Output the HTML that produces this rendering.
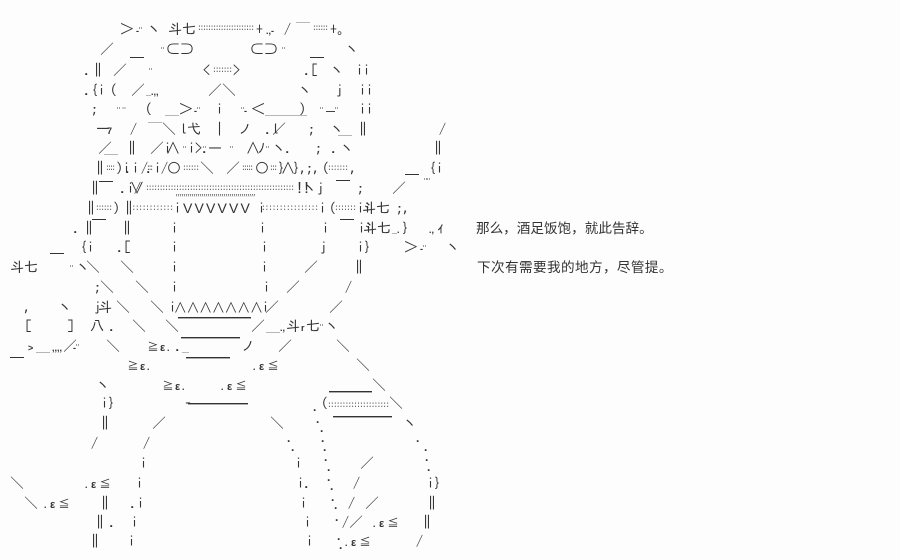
<!DOCTYPE html>
<html><head><meta charset="utf-8"><style>
html,body{margin:0;padding:0;background:#fdfdfd;width:900px;height:560px;overflow:hidden}
svg{display:block}
text{font-family:"Liberation Sans","IPAGothic","WenQuanYi Zen Hei",sans-serif;font-size:14px;fill:#333}
.j{font-family:"IPAGothic","WenQuanYi Zen Hei","Liberation Sans",sans-serif}
.c{font-family:"WenQuanYi Zen Hei","Noto Sans CJK SC",sans-serif;font-size:13.6px;fill:#333}
.d{font-size:8px;fill:#555;font-family:"Liberation Mono",monospace}
.s{font-size:9px;font-family:"Liberation Sans",sans-serif;font-weight:bold}
.e{font-size:11px;font-family:"Liberation Sans",sans-serif;font-weight:bold}
.g{font-size:12px}
.w{font-size:12.5px}
rect{fill:#333}
</style></head><body>
<svg width="900" height="560" viewBox="0 0 900 560" xmlns="http://www.w3.org/2000/svg">
<text class="j" y="34"><tspan x="120">＞</tspan><tspan x="136" class="s">-¨</tspan><tspan x="147">ヽ</tspan><tspan x="168">斗七</tspan><tspan x="256">+</tspan><tspan x="266" class="s">.,-</tspan><tspan x="284">/</tspan><tspan x="296">￣</tspan><tspan x="330">+</tspan><tspan x="337">｡</tspan></text>
<text class="d" x="197" y="30" textLength="58">::::::::::::::::::::::</text>
<text class="d" x="312" y="30" textLength="17">::::::</text>
<text class="j" y="54"><tspan x="100">／</tspan><tspan x="161" class="s">¨</tspan><tspan x="166">⊂⊃</tspan><tspan x="250">⊂⊃</tspan><tspan x="282" class="s">¨</tspan><tspan x="345">ヽ</tspan></text>
<rect x="130" y="57" width="14" height="1"/><rect x="310" y="57" width="14" height="1"/>
<text class="j" y="75"><tspan x="84">.‖</tspan><tspan x="113">／</tspan><tspan x="149" class="s">¨</tspan><tspan x="203">&lt;</tspan><tspan x="233">&gt;</tspan><tspan x="304">.[</tspan><tspan x="330">ヽ</tspan><tspan x="356">ii</tspan></text>
<text class="d" x="212" y="72" textLength="21">:::::::</text>
<text class="j" y="95"><tspan x="84">.{i</tspan><tspan x="103">（</tspan><tspan x="131">／</tspan><tspan x="146" class="s">_.,,</tspan><tspan x="208">／＼</tspan><tspan x="298">ヽ</tspan><tspan x="336">j</tspan><tspan x="359">ii</tspan></text>
<text class="j" y="114"><tspan x="91">;</tspan><tspan x="117" class="s">¨ ¨</tspan><tspan x="138">（</tspan><tspan x="165">＿</tspan><tspan x="179">＞</tspan><tspan x="194" class="s">-¨</tspan><tspan x="216">i</tspan><tspan x="241" class="s">¨-</tspan><tspan x="251">＜</tspan><tspan x="265">＿＿＿</tspan><tspan x="299">）</tspan><tspan x="320" class="s">¨</tspan><tspan x="326" class="s">—¨</tspan><tspan x="359">ii</tspan></text>
<text class="j" y="134"><tspan x="96">一</tspan><tspan x="107" class="s">7</tspan><tspan x="130">/</tspan><tspan x="148">￣</tspan><tspan x="162">＼</tspan><tspan x="180">l弋</tspan><tspan x="216">|</tspan><tspan x="238">ノ</tspan><tspan x="265">.l</tspan><tspan x="272">／</tspan><tspan x="308">;</tspan><tspan x="330">ヽ</tspan><tspan x="338">＿</tspan><tspan x="356">‖</tspan><tspan x="439">/</tspan></text>
<text class="j" y="153"><tspan x="98">／</tspan><tspan x="104">＿</tspan><tspan x="125">‖</tspan><tspan x="150">／i</tspan><tspan x="166">∧</tspan><tspan x="183" class="s">¨</tspan><tspan x="188">i&gt;.</tspan><tspan x="203" class="s">¨</tspan><tspan x="208">—</tspan><tspan x="230" class="s">¨</tspan><tspan x="246">∧</tspan><tspan x="258">ﾉ</tspan><tspan x="266" class="s">¨</tspan><tspan x="272">ヽ</tspan><tspan x="285">.</tspan><tspan x="315">;</tspan><tspan x="331">.</tspan><tspan x="340">ヽ</tspan><tspan x="431">‖</tspan></text>
<text class="j" y="173"><tspan x="93">‖</tspan><tspan x="116">)i</tspan><tspan x="125">.i .</tspan><tspan x="141">/</tspan><tspan x="154">i/</tspan><tspan x="167">○</tspan><tspan x="200">＼</tspan><tspan x="226">／</tspan><tspan x="255">○</tspan><tspan x="278">}</tspan><tspan x="281">∧</tspan><tspan x="293">},</tspan><tspan x="306">;,</tspan><tspan x="322">(</tspan><tspan x="350">,</tspan><tspan x="429">{i</tspan></text>
<text class="d" x="105" y="170" textLength="11">::::</text><text class="d" x="146" y="170" textLength="8">:::</text><text class="d" x="182" y="170" textLength="18">::::::</text><text class="d" x="241" y="170" textLength="13">:::::</text><text class="d" x="269" y="170" textLength="9">:::</text><text class="d" x="327" y="170" textLength="22">:::::::</text>
<rect x="405" y="174" width="14" height="1"/>
<text class="j" y="193"><tspan x="88">‖</tspan><tspan x="120">.i/</tspan><tspan x="130">∨</tspan><tspan x="296">!!</tspan><tspan x="303">ヽ</tspan><tspan x="317">j</tspan><tspan x="357">;</tspan><tspan x="392">／</tspan></text>
<rect x="99" y="181" width="14" height="1"/><rect x="336" y="180" width="14" height="1"/>
<text class="s" x="424" y="185">¨¨</text>
<text class="d" x="145" y="190" textLength="150">::::::::::::::::::::::::::::::::::::::::::::::::::::::</text>
<text class="d" x="175" y="195" textLength="82" style="font-size:7px">,,,,,,,,,,,,,,,,,,,,,,,,,,,,,,,,,,,,,,,,</text>
<text class="j" y="213"><tspan x="84">‖</tspan><tspan x="113">)</tspan><tspan x="122">‖</tspan><tspan x="174">i</tspan><tspan x="258">i</tspan><tspan x="319">i</tspan><tspan x="329">(</tspan><tspan x="357">ii</tspan><tspan x="362">斗七</tspan><tspan x="396">;,</tspan></text>
<text x="183 194.5 206 217.5 229 240.5" y="213" style="font-size:14px">VVVVVV</text>
<text class="d" x="95" y="210" textLength="18">::::::</text><text class="d" x="128" y="210" textLength="46">:::::::::::::</text><text class="d" x="261" y="210" textLength="58">::::::::::::::::</text><text class="d" x="334" y="210" textLength="23">:::::::</text>
<text class="j" y="233"><tspan x="73">.</tspan><tspan x="82">‖</tspan><tspan x="120">‖</tspan><tspan x="171">i</tspan><tspan x="259">i</tspan><tspan x="322">i</tspan><tspan x="358">ii</tspan><tspan x="363">斗七</tspan><tspan x="392" class="s">_.</tspan><tspan x="402">}</tspan><tspan x="429" class="s">.,</tspan><tspan x="437">ｨ</tspan></text>
<rect x="92" y="219" width="14" height="1"/><rect x="340" y="219" width="14" height="1"/>
<text class="j" y="252"><tspan x="80">{i</tspan><tspan x="117">.[</tspan><tspan x="171">i</tspan><tspan x="261">i</tspan><tspan x="320">j</tspan><tspan x="357">i}</tspan><tspan x="404">＞</tspan><tspan x="420" class="s">-¨</tspan><tspan x="446">ヽ</tspan></text>
<rect x="50" y="253" width="14" height="1"/>
<text class="j" y="272"><tspan x="10">斗七</tspan><tspan x="70" class="s">¨</tspan><tspan x="76">ヽ</tspan><tspan x="86">＼</tspan><tspan x="120">＼</tspan><tspan x="171">i</tspan><tspan x="261">i</tspan><tspan x="304">／</tspan><tspan x="352">‖</tspan></text>
<text class="j" y="292"><tspan x="94">;</tspan><tspan x="100">＼</tspan><tspan x="135">＼</tspan><tspan x="171">i</tspan><tspan x="263">i</tspan><tspan x="286">／</tspan><tspan x="345">/</tspan></text>
<text class="j" y="312"><tspan x="24">,</tspan><tspan x="58">ヽ</tspan><tspan x="94">j</tspan><tspan x="98">斗</tspan><tspan x="116">＼</tspan><tspan x="150">＼</tspan><tspan x="169">i</tspan><tspan x="262">i</tspan><tspan x="265">／</tspan><tspan x="329">／</tspan></text>
<text class="j w" x="174 186.7 199.4 212.1 224.8 237.5 250.2" y="312">∧∧∧∧∧∧∧</text>
<rect x="178" y="317" width="73" height="1.4"/>
<text class="j" y="331"><tspan x="25">[</tspan><tspan x="67">]</tspan><tspan x="90">八</tspan><tspan x="109">.</tspan><tspan x="132">＼</tspan><tspan x="165">＼</tspan><tspan x="251">／</tspan><tspan x="266">＿</tspan><tspan x="280" class="s">.,</tspan><tspan x="286">斗</tspan><tspan x="301" class="s">r</tspan><tspan x="306">七</tspan><tspan x="320" class="s">¨</tspan><tspan x="325">ヽ</tspan></text>
<text class="j" y="351"><tspan x="28" class="s">&gt;</tspan><tspan x="36">＿</tspan><tspan x="52" class="s">,,,,</tspan><tspan x="63">／</tspan><tspan x="73" class="s">-¨</tspan><tspan x="106">＼</tspan><tspan x="147" class="g">≧</tspan><tspan x="160" class="e">ε</tspan><tspan x="167" class="s">.</tspan><tspan x="175">._</tspan><tspan x="241">ノ</tspan><tspan x="278">／</tspan><tspan x="336">＼</tspan></text>
<rect x="181" y="337" width="59" height="1.4"/><rect x="10" y="357" width="14" height="1"/><rect x="186" y="357" width="44" height="1.4"/>
<text class="j" y="370"><tspan x="127" class="g">≧</tspan><tspan x="140" class="e">ε</tspan><tspan x="147" class="s">.</tspan><tspan x="253" class="s">.</tspan><tspan x="259" class="e">ε</tspan><tspan x="267" class="g">≦</tspan><tspan x="356">＼</tspan></text>
<text class="j" y="390"><tspan x="96">ヽ</tspan><tspan x="162" class="g">≧</tspan><tspan x="175" class="e">ε</tspan><tspan x="182" class="s">.</tspan><tspan x="221" class="s">.</tspan><tspan x="227" class="e">ε</tspan><tspan x="235" class="g">≦</tspan><tspan x="372">＼</tspan></text>
<rect x="329" y="391" width="43" height="1.4"/>
<text class="j" y="408"><tspan x="101">i}</tspan><tspan x="181">‐</tspan><tspan x="321">(</tspan><tspan x="389">＼</tspan></text>
<rect x="188" y="403" width="60" height="1.4"/>
<text class="d" x="327" y="407" textLength="63">:::::::::::::::::::::</text>
<text class="j" y="428"><tspan x="98">‖</tspan><tspan x="152">／</tspan><tspan x="270">＼</tspan><tspan x="403">ヽ</tspan></text>
<rect x="333" y="416" width="59" height="1.4"/>
<text class="j" y="448"><tspan x="91">/</tspan><tspan x="143">/</tspan></text>
<text class="j" y="468"><tspan x="140">i</tspan><tspan x="295">i</tspan><tspan x="360">／</tspan></text>
<text class="j" y="488"><tspan x="10">＼</tspan><tspan x="85" class="s">.</tspan><tspan x="91" class="e">ε</tspan><tspan x="99" class="g">≦</tspan><tspan x="136">i</tspan><tspan x="297">i.</tspan><tspan x="353">/</tspan><tspan x="427">i}</tspan></text>
<text class="j" y="508"><tspan x="24">＼</tspan><tspan x="44" class="s">.</tspan><tspan x="50" class="e">ε</tspan><tspan x="58" class="g">≦</tspan><tspan x="98">‖</tspan><tspan x="130">.i</tspan><tspan x="300">i</tspan><tspan x="348">/</tspan><tspan x="365">／</tspan><tspan x="425">‖</tspan></text>
<text class="j" y="527"><tspan x="93">‖</tspan><tspan x="109">.</tspan><tspan x="131">i</tspan><tspan x="304">i</tspan><tspan x="342">/</tspan><tspan x="349">／</tspan><tspan x="373" class="s">.</tspan><tspan x="379" class="e">ε</tspan><tspan x="387" class="g">≦</tspan><tspan x="420">‖</tspan></text>
<text class="j" y="546"><tspan x="88">‖</tspan><tspan x="128">i</tspan><tspan x="306">i</tspan><tspan x="345" class="s">.</tspan><tspan x="351" class="e">ε</tspan><tspan x="359" class="g">≦</tspan><tspan x="416">/</tspan></text>
<text x="313 316 320 321 323 324 327 327 330 331 334 335 337 339 416 424 425 427 287 291" y="411 423 432 442 451 461 471 481 490 501 509 521 540 549 442 451 461 471 442 451" style="font-weight:bold;font-size:12px">....................</text>
<text class="c" x="476" y="233">那么，酒足饭饱，就此告辞。</text>
<text class="c" x="477" y="272" style="letter-spacing:.4px">下次有需要我的地方，尽管提。</text>
</svg>
</body></html>
